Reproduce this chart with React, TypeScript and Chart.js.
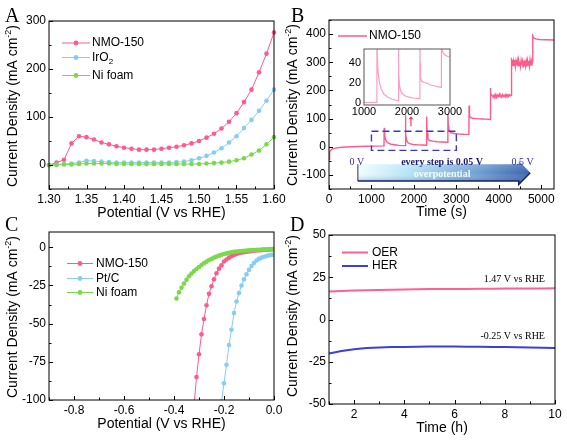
import React, { useEffect, useRef } from 'react';
import { Chart, registerables } from 'chart.js';

Chart.register(...registerables);

const PAGE_W = 567;
const PAGE_H = 442;
const SANS = '"Liberation Sans", Arial, Helvetica, sans-serif';
const SERIF = '"Liberation Serif", "Times New Roman", Times, serif';

// ---------------- Panel A : OER LSV ----------------
const aPotential = [1.30, 1.31, 1.32, 1.33, 1.34, 1.35, 1.36, 1.37, 1.38, 1.39, 1.40, 1.41, 1.42, 1.43, 1.44, 1.45, 1.46, 1.47, 1.48, 1.49, 1.50, 1.51, 1.52, 1.53, 1.54, 1.55, 1.56, 1.57, 1.58, 1.59, 1.60];
const aNMO150 = [0, 5, 11, 45, 60, 58, 53, 47, 43, 39, 36, 34, 32, 32, 32, 34, 36, 38, 41, 45, 50, 57, 65, 76, 90, 108, 131, 157, 193, 232, 276];
const aIrO2 = [0, 1, 2, 3, 5, 9, 8, 7, 6, 5, 5, 5, 5, 5, 5, 5, 5, 6, 7, 10, 14, 19, 26, 35, 47, 60, 77, 94, 113, 134, 157];
const aNiFoam = [0, 0, 1, 1, 2, 3, 3, 3, 3, 2, 2, 2, 2, 2, 2, 2, 2, 2, 2, 2, 2, 3, 4, 5, 7, 10, 14, 22, 30, 43, 58];
const aPotentialTicks = [1.30, 1.35, 1.40, 1.45, 1.50, 1.55, 1.60];
const aCurrentTicks = [0, 100, 200, 300];

// ---------------- Panel B : multi-step chronoamperometry ----------------
const bTime = [0, 8, 20, 40, 80, 150, 300, 550, 900, 1295,
  1300, 1310, 1330, 1360, 1400, 1460, 1550, 1650, 1795,
  1800, 1810, 1830, 1860, 1900, 1980, 2100, 2200, 2295,
  2300, 2310, 2330, 2370, 2450, 2550, 2650, 2795,
  2800, 2810, 2830, 2870, 2950, 3050, 3180, 3295,
  3300, 3310, 3330, 3380, 3450, 3520, 3600, 3700, 3795,
  3800, 3810, 3830,
  3850, 3870, 3890, 3910, 3930, 3950, 3970, 3990, 4010, 4030, 4050, 4070, 4090, 4110, 4130, 4150, 4170, 4190, 4210, 4230, 4250, 4270, 4295,
  4300, 4315, 4330, 4345, 4360, 4375, 4390, 4405, 4420, 4435, 4450, 4465, 4480, 4495, 4510, 4525, 4540, 4555, 4570, 4585, 4600, 4615, 4630, 4645, 4660, 4675, 4690, 4705, 4720, 4735, 4750, 4765, 4780, 4795,
  4800, 4810, 4830, 4870, 4950, 5100, 5300];
const bCurrent = [-45, -28, -18, -12, -8, -5, -2, 0, 2, 3,
  67, 40, 27, 18, 13, 9, 7, 5, 4,
  112, 45, 22, 14, 11, 8, 6.5, 6, 5.5,
  107, 50, 28, 22, 20, 18, 17, 16,
  116, 80, 58, 50, 47, 45.5, 44.5, 44,
  146, 112, 104, 101, 100, 99, 98.5, 98, 97,
  209, 190, 184,
  181, 176, 184, 178, 186, 175, 183, 179, 187, 177, 182, 176, 185, 179, 183, 177, 186, 180, 184, 178, 185, 181, 183,
  310, 306, 286, 304, 289, 308, 284, 303, 290, 305, 285, 307, 288, 302, 286, 306, 291, 304, 284, 305, 289, 307, 287, 303, 285, 306, 290, 304, 286, 308, 288, 303, 289, 305,
  394, 391, 386, 383, 381, 380, 379];
const bTimeTicks = [0, 1000, 2000, 3000, 4000, 5000];
const bCurrentTicks = [-100, 0, 100, 200, 300, 400];

const insetTime = [1000, 1100, 1200, 1295, 1300, 1310, 1330, 1360, 1400, 1460, 1550, 1650, 1795, 1800, 1810, 1830, 1860, 1900, 1960, 2050, 2150, 2295, 2300, 2305, 2315, 2340, 2400, 2460, 2550, 2650, 2795, 2800, 2815, 2840, 2880, 2950, 3000];
const insetCurrent = [0.5, 0.5, 0.6, 0.7, 70, 45, 30, 20, 14, 9, 6, 4, 2, 70, 30, 16, 11, 9, 7, 5.8, 5, 4.3, 70, 40, 25, 22, 20.5, 20, 18, 17, 15.6, 70, 53, 50, 48, 46.5, 46];
const insetTimeTicks = [1000, 2000, 3000];
const insetCurrentTicks = [0, 20, 40];

// ---------------- Panel C : HER LSV ----------------
const cNMOPotential = [-0.32, -0.31, -0.30, -0.29, -0.28, -0.27, -0.26, -0.25, -0.24, -0.23, -0.22, -0.21, -0.20, -0.19, -0.18, -0.17, -0.16, -0.15, -0.14, -0.13, -0.12, -0.11, -0.10, -0.09, -0.08, -0.07, -0.06, -0.05, -0.04, -0.03, -0.02, -0.01, 0];
const cNMO150 = [-104, -85, -70, -57, -47, -38, -30.5, -25.5, -21, -17, -14, -11.8, -9.3, -8, -6.8, -5.8, -5, -4.4, -3.9, -3.5, -3.2, -2.9, -2.7, -2.5, -2.3, -2.1, -2, -1.9, -1.8, -1.7, -1.6, -1.5, -1.4];
const cPtCPotential = [-0.21, -0.20, -0.19, -0.18, -0.17, -0.16, -0.15, -0.14, -0.13, -0.12, -0.11, -0.10, -0.09, -0.08, -0.07, -0.06, -0.05, -0.04, -0.03, -0.02, -0.01, 0];
const cPtC = [-101, -89, -77, -64, -54, -43, -35.5, -30, -25, -21, -17.7, -14.8, -12.3, -10.3, -8.7, -7.6, -6.8, -6.2, -5.7, -5.3, -5, -4.7];
const cNiPotential = [-0.39, -0.38, -0.37, -0.36, -0.35, -0.34, -0.33, -0.32, -0.31, -0.30, -0.29, -0.28, -0.27, -0.26, -0.25, -0.24, -0.23, -0.22, -0.21, -0.20, -0.19, -0.18, -0.17, -0.16, -0.15, -0.14, -0.13, -0.12, -0.11, -0.10, -0.09, -0.08, -0.07, -0.06, -0.05, -0.04, -0.03, -0.02, -0.01, 0];
const cNiFoam = [-33.5, -29.5, -26.5, -23.8, -21.3, -19, -17.2, -15.6, -14.2, -12.9, -11.6, -10.4, -9.4, -8.4, -7.6, -6.8, -6.1, -5.5, -4.9, -4.4, -4.0, -3.6, -3.3, -3.0, -2.8, -2.6, -2.4, -2.3, -2.1, -2.0, -1.9, -1.8, -1.7, -1.6, -1.5, -1.4, -1.3, -1.2, -1.1, -1.0];
const cPotentialTicks = [-0.8, -0.6, -0.4, -0.2, 0];
const cCurrentTicks = [-100, -75, -50, -25, 0];

// ---------------- Panel D : stability ----------------
const dTime = [1, 1.5, 2, 2.5, 3, 3.5, 4, 4.5, 5, 5.5, 6, 6.5, 7, 7.5, 8, 8.5, 9, 9.5, 10];
const dOER = [16.6, 16.9, 17.1, 17.3, 17.5, 17.6, 17.8, 17.9, 18.0, 18.0, 18.1, 18.1, 18.2, 18.2, 18.3, 18.3, 18.4, 18.4, 18.5];
const dHER = [-20.2, -18.6, -17.6, -16.9, -16.5, -16.3, -16.2, -16.1, -16.0, -16.0, -16.0, -16.1, -16.1, -16.2, -16.3, -16.4, -16.5, -16.7, -16.8];
const dTimeTicks = [2, 4, 6, 8, 10];
const dCurrentTicks = [-50, -25, 0, 25, 50];

// ---------------- styling ----------------
const PINK = '#ff5a8c';
const LIGHT_BLUE = '#86ccf4';
const GREEN = '#79d94a';
const BLUE = '#3d3de0';
const OER_PINK = '#ff5f97';
const INSET_PINK = '#ff9dc2';
const DASH_BLUE = '#3636d6';

type Area = { left: number; top: number; right: number; bottom: number };
const AREA_A: Area = { left: 49, top: 21, right: 274, bottom: 189 };
const AREA_B: Area = { left: 329, top: 20, right: 554, bottom: 189 };
const AREA_C: Area = { left: 49, top: 232, right: 274, bottom: 400 };
const AREA_D: Area = { left: 329, top: 235, right: 555, bottom: 404 };
const AREA_INSET: Area = { left: 364, top: 49, right: 450, bottom: 105 };

const Y_BOX = 30;
const X_BOX = 22;

const pts = (xs: number[], ys: number[]) => xs.map((x, i) => ({ x, y: ys[i] }));

function padFor(area: Area, yBox = Y_BOX, xBox = X_BOX) {
  return { left: area.left - yBox, top: area.top, right: PAGE_W - area.right, bottom: PAGE_H - area.bottom - xBox };
}

function scaleOpts(axis: 'x' | 'y', min: number, max: number, tickVals: number[], fmt: (v: number) => string, size = 12, pad = 3, box = axis === 'x' ? X_BOX : Y_BOX) {
  return {
    type: 'linear',
    min,
    max,
    afterBuildTicks: (s: any) => {
      s.ticks = tickVals.map((v) => ({ value: v }));
    },
    ticks: {
      autoSkip: false,
      maxRotation: 0,
      minRotation: 0,
      padding: pad,
      color: '#000',
      font: { family: SANS, size },
      callback: (v: any) => fmt(Number(v)),
    },
    grid: { display: false, drawTicks: false },
    border: { display: false },
    afterFit: (s: any) => {
      if (axis === 'x') s.height = box;
      else s.width = box;
    },
  };
}

function lineDs(data: any[], color: string, width: number, radius: number, extra: any = {}) {
  return {
    data,
    borderColor: color,
    backgroundColor: color,
    borderWidth: width,
    pointRadius: radius,
    pointBorderWidth: 0,
    pointBackgroundColor: color,
    tension: 0,
    ...extra,
  };
}

type LegendItem = { text: string; sub?: string; color: string; marker: boolean; y: number };
type Decor = {
  letter?: { text: string; x: number; y: number };
  xTitle?: { text: string; y: number };
  yTitle?: { x: number; y: number };
  legend?: { x1: number; x2: number; tx: number; lineWidth: number; items: LegendItem[] };
  ticks?: { major: number; minor: number };
  frameColor: string;
  whiteBg?: boolean;
  extra?: (chart: any) => void;
};

function minorValues(majors: number[], min: number, max: number) {
  const step = majors.length > 1 ? majors[1] - majors[0] : 1;
  const out: number[] = [];
  const seen = new Set<string>();
  const eps = Math.abs(step) * 1e-6;
  majors.forEach((m) => {
    [m - step / 2, m + step / 2].forEach((v) => {
      if (v >= min - eps && v <= max + eps) {
        const k = v.toFixed(6);
        if (!seen.has(k)) {
          seen.add(k);
          out.push(v);
        }
      }
    });
  });
  return out;
}

function drawYTitle(ctx: CanvasRenderingContext2D, cx: number, cy: number) {
  const main = 'Current Density (mA cm';
  const sup = '-2';
  const end = ')';
  ctx.save();
  ctx.translate(cx, cy);
  ctx.rotate(-Math.PI / 2);
  ctx.fillStyle = '#000';
  ctx.textBaseline = 'middle';
  ctx.textAlign = 'left';
  ctx.font = `14px ${SANS}`;
  const w1 = ctx.measureText(main).width;
  const w3 = ctx.measureText(end).width;
  ctx.font = `9px ${SANS}`;
  const w2 = ctx.measureText(sup).width;
  let x = -(w1 + w2 + w3) / 2;
  ctx.font = `14px ${SANS}`;
  ctx.fillText(main, x, 0);
  x += w1;
  ctx.font = `9px ${SANS}`;
  ctx.fillText(sup, x, -5);
  x += w2;
  ctx.font = `14px ${SANS}`;
  ctx.fillText(end, x, 0);
  ctx.restore();
}

function decorPlugin(d: Decor) {
  return {
    id: 'decor',
    beforeDatasetsDraw(chart: any) {
      if (!d.whiteBg) return;
      const a = chart.chartArea;
      const ctx = chart.ctx;
      ctx.save();
      ctx.fillStyle = '#fff';
      ctx.fillRect(a.left, a.top, a.right - a.left, a.bottom - a.top);
      ctx.restore();
    },
    afterDraw(chart: any) {
      const { ctx, chartArea: a, scales } = chart;
      const xs = scales.x;
      const ys = scales.y;
      ctx.save();
      if (d.extra) d.extra(chart);
      ctx.strokeStyle = d.frameColor;
      ctx.lineWidth = 1;
      ctx.strokeRect(a.left, a.top, a.right - a.left, a.bottom - a.top);
      if (d.ticks) {
        const t = d.ticks;
        const xMaj = xs.ticks.map((k: any) => k.value);
        const yMaj = ys.ticks.map((k: any) => k.value);
        const xMin = minorValues(xMaj, xs.min, xs.max);
        const yMin = minorValues(yMaj, ys.min, ys.max);
        ctx.beginPath();
        xMaj.forEach((v: number) => {
          const p = Math.round(xs.getPixelForValue(v)) + 0.5;
          ctx.moveTo(p, a.bottom);
          ctx.lineTo(p, a.bottom - t.major);
        });
        xMin.forEach((v: number) => {
          const p = Math.round(xs.getPixelForValue(v)) + 0.5;
          ctx.moveTo(p, a.bottom);
          ctx.lineTo(p, a.bottom - t.minor);
        });
        yMaj.forEach((v: number) => {
          const p = Math.round(ys.getPixelForValue(v)) + 0.5;
          ctx.moveTo(a.left, p);
          ctx.lineTo(a.left + t.major, p);
        });
        yMin.forEach((v: number) => {
          const p = Math.round(ys.getPixelForValue(v)) + 0.5;
          ctx.moveTo(a.left, p);
          ctx.lineTo(a.left + t.minor, p);
        });
        ctx.stroke();
      }
      ctx.fillStyle = '#000';
      if (d.xTitle) {
        ctx.font = `14px ${SANS}`;
        ctx.textAlign = 'center';
        ctx.textBaseline = 'middle';
        ctx.fillText(d.xTitle.text, (a.left + a.right) / 2, d.xTitle.y);
      }
      if (d.yTitle) drawYTitle(ctx, d.yTitle.x, d.yTitle.y);
      if (d.legend) {
        const L = d.legend;
        L.items.forEach((it) => {
          ctx.strokeStyle = it.color;
          ctx.lineWidth = L.lineWidth;
          ctx.beginPath();
          ctx.moveTo(L.x1, it.y);
          ctx.lineTo(L.x2, it.y);
          ctx.stroke();
          if (it.marker) {
            ctx.fillStyle = it.color;
            ctx.beginPath();
            ctx.arc((L.x1 + L.x2) / 2, it.y, 2.4, 0, Math.PI * 2);
            ctx.fill();
          }
          ctx.fillStyle = '#000';
          ctx.textAlign = 'left';
          ctx.textBaseline = 'middle';
          ctx.font = `12px ${SANS}`;
          ctx.fillText(it.text, L.tx, it.y);
          if (it.sub) {
            const w = ctx.measureText(it.text).width;
            ctx.font = `8px ${SANS}`;
            ctx.fillText(it.sub, L.tx + w, it.y + 4);
          }
        });
      }
      if (d.letter) {
        ctx.fillStyle = '#000';
        ctx.font = `20px ${SERIF}`;
        ctx.textAlign = 'left';
        ctx.textBaseline = 'alphabetic';
        ctx.fillText(d.letter.text, d.letter.x, d.letter.y);
      }
      ctx.restore();
    },
  };
}

function baseOptions(area: Area, x: any, y: any) {
  return {
    responsive: false,
    animation: false,
    events: [],
    layout: { padding: padFor(area) },
    plugins: { legend: { display: false }, tooltip: { enabled: false } },
    scales: { x, y },
  };
}

const intFmt = (v: number) => String(Math.round(v));

function configA(): any {
  return {
    type: 'line',
    data: {
      datasets: [
        lineDs(pts(aPotential, aNiFoam), GREEN, 1, 2.3, { clip: 3 }),
        lineDs(pts(aPotential, aIrO2), LIGHT_BLUE, 1, 2.3, { clip: 3 }),
        lineDs(pts(aPotential, aNMO150), PINK, 1, 2.3, { clip: 3 }),
      ],
    },
    options: baseOptions(AREA_A, scaleOpts('x', 1.3, 1.6, aPotentialTicks, (v) => v.toFixed(2)), scaleOpts('y', -50, 300, aCurrentTicks, intFmt)),
    plugins: [
      decorPlugin({
        frameColor: '#000',
        letter: { text: 'A', x: 5, y: 22 },
        xTitle: { text: 'Potential (V vs RHE)', y: 213 },
        yTitle: { x: 13.5, y: 106 },
        ticks: { major: 4, minor: 2.5 },
        legend: {
          x1: 62, x2: 90, tx: 92, lineWidth: 1,
          items: [
            { text: 'NMO-150', color: PINK, marker: true, y: 43 },
            { text: 'IrO', sub: '2', color: LIGHT_BLUE, marker: true, y: 57.5 },
            { text: 'Ni foam', color: GREEN, marker: true, y: 75.5 },
          ],
        },
      }),
    ],
  };
}

function drawBAnnotations(chart: any) {
  const { ctx } = chart;
  const xs = chart.scales.x;
  const ys = chart.scales.y;
  const X = (v: number) => xs.getPixelForValue(v);
  const Y = (v: number) => ys.getPixelForValue(v);

  ctx.save();
  ctx.strokeStyle = DASH_BLUE;
  ctx.lineWidth = 1.4;
  ctx.setLineDash([7, 4]);
  ctx.strokeRect(X(1000), Y(55), X(3000) - X(1000), Y(-13) - Y(55));
  ctx.restore();

  ctx.save();
  ctx.strokeStyle = '#e8405e';
  ctx.fillStyle = '#e8405e';
  ctx.lineWidth = 1.2;
  const ax = X(1930);
  ctx.beginPath();
  ctx.moveTo(ax, Y(73));
  ctx.lineTo(ax, Y(100));
  ctx.stroke();
  ctx.beginPath();
  ctx.moveTo(ax, Y(108));
  ctx.lineTo(ax - 2.5, Y(98));
  ctx.lineTo(ax + 2.5, Y(98));
  ctx.closePath();
  ctx.fill();
  ctx.restore();

  const x0 = X(680);
  const x1 = X(4470);
  const xt = X(4740);
  const yTop = Y(-62);
  const yBot = Y(-122);
  const yc = Y(-92);
  const hTop = Y(-50);
  const hBot = Y(-134);
  ctx.save();
  const g = ctx.createLinearGradient(x0, 0, xt, 0);
  g.addColorStop(0, '#effeff');
  g.addColorStop(0.3, '#b4e4f4');
  g.addColorStop(0.7, '#6f9fd2');
  g.addColorStop(1, '#3a64ae');
  ctx.beginPath();
  ctx.moveTo(x0, yTop);
  ctx.lineTo(x1, yTop);
  ctx.lineTo(x1, hTop);
  ctx.lineTo(xt, yc);
  ctx.lineTo(x1, hBot);
  ctx.lineTo(x1, yBot);
  ctx.lineTo(x0, yBot);
  ctx.closePath();
  ctx.fillStyle = g;
  ctx.fill();
  const gv = ctx.createLinearGradient(0, hTop, 0, hBot);
  gv.addColorStop(0, 'rgba(255,255,255,0.25)');
  gv.addColorStop(0.5, 'rgba(255,255,255,0)');
  gv.addColorStop(1, 'rgba(10,30,100,0.45)');
  ctx.fillStyle = gv;
  ctx.fill();
  ctx.strokeStyle = '#15246a';
  ctx.lineWidth = 1.5;
  ctx.beginPath();
  ctx.moveTo(x0, yBot);
  ctx.lineTo(x1, yBot);
  ctx.lineTo(x1, hBot);
  ctx.lineTo(xt, yc);
  ctx.stroke();
  ctx.strokeStyle = '#333';
  ctx.lineWidth = 1;
  ctx.beginPath();
  ctx.moveTo(x0, yTop);
  ctx.lineTo(x0, yBot);
  ctx.stroke();
  ctx.restore();

  ctx.save();
  ctx.textAlign = 'center';
  ctx.textBaseline = 'middle';
  ctx.font = `10px ${SERIF}`;
  ctx.fillStyle = '#2e2ea6';
  ctx.fillText('0 V', X(655), Y(-54));
  ctx.fillText('0.5 V', X(4560), Y(-54));
  ctx.font = `bold 10px ${SERIF}`;
  ctx.fillStyle = '#1a1a78';
  ctx.fillText('every step is 0.05 V', X(2664), Y(-56));
  ctx.fillStyle = 'rgba(255,255,255,0.9)';
  ctx.fillText('overpotential', X(2664), Y(-97));
  ctx.restore();
}

function configB(): any {
  return {
    type: 'line',
    data: { datasets: [lineDs(pts(bTime, bCurrent), PINK, 1.4, 0)] },
    options: baseOptions(AREA_B, scaleOpts('x', 0, 5300, bTimeTicks, intFmt), scaleOpts('y', -150, 450, bCurrentTicks, intFmt)),
    plugins: [
      decorPlugin({
        frameColor: '#000',
        letter: { text: 'B', x: 291, y: 22 },
        xTitle: { text: 'Time (s)', y: 212.5 },
        yTitle: { x: 293.5, y: 105 },
        ticks: { major: 4, minor: 2.5 },
        legend: {
          x1: 338, x2: 367, tx: 369, lineWidth: 1.5,
          items: [{ text: 'NMO-150', color: PINK, marker: false, y: 36 }],
        },
        extra: drawBAnnotations,
      }),
    ],
  };
}

function configInset(): any {
  const opts: any = baseOptions(
    AREA_INSET,
    scaleOpts('x', 1000, 3000, insetTimeTicks, intFmt, 11, 0, 14),
    scaleOpts('y', -2, 54, insetCurrentTicks, intFmt, 11, 3, 24),
  );
  opts.layout.padding = padFor(AREA_INSET, 24, 14);
  return {
    type: 'line',
    data: { datasets: [lineDs(pts(insetTime, insetCurrent), INSET_PINK, 1.2, 0)] },
    options: opts,
    plugins: [decorPlugin({ frameColor: '#555', whiteBg: true })],
  };
}

function configC(): any {
  return {
    type: 'line',
    data: {
      datasets: [
        lineDs(pts(cNiPotential, cNiFoam), GREEN, 1, 2.3),
        lineDs(pts(cNMOPotential, cNMO150), PINK, 1, 2.3),
        lineDs(pts(cPtCPotential, cPtC), LIGHT_BLUE, 1, 2.3),
      ],
    },
    options: baseOptions(AREA_C, scaleOpts('x', -0.9, 0, cPotentialTicks, (v) => v.toFixed(1)), scaleOpts('y', -100, 10, cCurrentTicks, intFmt)),
    plugins: [
      decorPlugin({
        frameColor: '#000',
        letter: { text: 'C', x: 5, y: 231 },
        xTitle: { text: 'Potential (V vs RHE)', y: 424 },
        yTitle: { x: 13.5, y: 317 },
        ticks: { major: 4, minor: 2.5 },
        legend: {
          x1: 67, x2: 93, tx: 96, lineWidth: 1,
          items: [
            { text: 'NMO-150', color: PINK, marker: true, y: 263.5 },
            { text: 'Pt/C', color: LIGHT_BLUE, marker: true, y: 278.5 },
            { text: 'Ni foam', color: GREEN, marker: true, y: 292.5 },
          ],
        },
      }),
    ],
  };
}

function drawDAnnotations(chart: any) {
  const { ctx } = chart;
  const xs = chart.scales.x;
  const ys = chart.scales.y;
  ctx.save();
  ctx.fillStyle = '#000';
  ctx.font = `10px ${SERIF}`;
  ctx.textAlign = 'right';
  ctx.textBaseline = 'middle';
  ctx.fillText('1.47 V vs RHE', xs.getPixelForValue(9.6), ys.getPixelForValue(23.8));
  ctx.fillText('-0.25 V vs RHE', xs.getPixelForValue(9.6), ys.getPixelForValue(-10.2));
  ctx.restore();
}

function configD(): any {
  return {
    type: 'line',
    data: {
      datasets: [
        lineDs(pts(dTime, dOER), OER_PINK, 2, 0),
        lineDs(pts(dTime, dHER), BLUE, 2, 0),
      ],
    },
    options: baseOptions(AREA_D, scaleOpts('x', 1, 10, dTimeTicks, intFmt), scaleOpts('y', -50, 50, dCurrentTicks, intFmt)),
    plugins: [
      decorPlugin({
        frameColor: '#000',
        letter: { text: 'D', x: 290, y: 231 },
        xTitle: { text: 'Time (h)', y: 428 },
        yTitle: { x: 293.5, y: 316 },
        ticks: { major: 4, minor: 2.5 },
        legend: {
          x1: 342, x2: 368, tx: 372, lineWidth: 2,
          items: [
            { text: 'OER', color: OER_PINK, marker: false, y: 252.5 },
            { text: 'HER', color: BLUE, marker: false, y: 266 },
          ],
        },
        extra: drawDAnnotations,
      }),
    ],
  };
}

export default function App() {
  const refA = useRef<HTMLCanvasElement>(null);
  const refB = useRef<HTMLCanvasElement>(null);
  const refC = useRef<HTMLCanvasElement>(null);
  const refD = useRef<HTMLCanvasElement>(null);
  const refI = useRef<HTMLCanvasElement>(null);

  useEffect(() => {
    const charts = [
      new Chart(refA.current as HTMLCanvasElement, configA()),
      new Chart(refB.current as HTMLCanvasElement, configB()),
      new Chart(refC.current as HTMLCanvasElement, configC()),
      new Chart(refD.current as HTMLCanvasElement, configD()),
      new Chart(refI.current as HTMLCanvasElement, configInset()),
    ];
    return () => charts.forEach((c) => c.destroy());
  }, []);

  const cs: React.CSSProperties = { position: 'absolute', left: 0, top: 0, width: PAGE_W, height: PAGE_H };
  return (
    <div style={{ position: 'fixed', left: 0, top: 0, width: PAGE_W, height: PAGE_H, background: '#fff', overflow: 'hidden' }}>
      <canvas ref={refA} width={PAGE_W} height={PAGE_H} style={cs} />
      <canvas ref={refB} width={PAGE_W} height={PAGE_H} style={cs} />
      <canvas ref={refC} width={PAGE_W} height={PAGE_H} style={cs} />
      <canvas ref={refD} width={PAGE_W} height={PAGE_H} style={cs} />
      <canvas ref={refI} width={PAGE_W} height={PAGE_H} style={cs} />
    </div>
  );
}
